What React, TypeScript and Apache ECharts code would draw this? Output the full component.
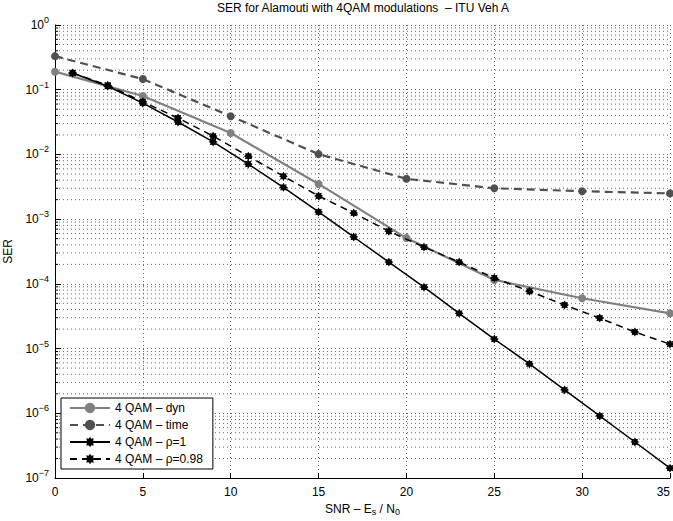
import React, { useEffect, useRef } from 'react';
import * as echarts from 'echarts';

const titleText = 'SER for Alamouti with 4QAM modulations  \u2013 ITU Veh A';
const legendNames = ['4 QAM \u2013 dyn', '4 QAM \u2013 time', '4 QAM \u2013 \u03c1=1', '4 QAM \u2013 \u03c1=0.98'];

const xCoarse = [0, 5, 10, 15, 20, 25, 30, 35];
const serDyn = [0.19, 0.08, 0.0214, 0.0035, 5.1e-4, 1.15e-4, 6.0e-5, 3.5e-5];
const serTime = [0.33, 0.146, 0.039, 0.0101, 0.0042, 0.003, 0.0027, 0.0025];

const xFine = [1, 3, 5, 7, 9, 11, 13, 15, 17, 19, 21, 23, 25, 27, 29, 31, 33, 35];
const serRho1 = [0.181, 0.113, 0.062, 0.0317, 0.0156, 0.0071, 0.0031, 0.00129, 5.3e-4, 2.17e-4, 8.9e-5, 3.5e-5, 1.4e-5, 5.8e-6, 2.3e-6, 9.1e-7, 3.6e-7, 1.42e-7];
const serRho098 = [0.181, 0.117, 0.065, 0.0365, 0.0192, 0.0094, 0.0046, 0.00228, 0.00124, 6.5e-4, 3.7e-4, 2.17e-4, 1.23e-4, 7.7e-5, 4.7e-5, 2.96e-5, 1.8e-5, 1.17e-5];

const minorMantissas = [2, 3, 4, 5, 6, 7, 8, 9];
const decades = [-7, -6, -5, -4, -3, -2, -1];
const minorValues: number[] = [];
decades.forEach((e) => minorMantissas.forEach((m) => minorValues.push(m * Math.pow(10, e))));

const FONT = 'Liberation Sans, Arial, Helvetica, sans-serif';

function starPath(): string {
  const pts: string[] = [];
  for (let i = 0; i < 16; i++) {
    const a = (i * Math.PI) / 8 - Math.PI / 2;
    const r = i % 2 === 0 ? 10 : 6.5;
    pts.push(`${(10 + r * Math.cos(a)).toFixed(2)} ${(10 + r * Math.sin(a)).toFixed(2)}`);
  }
  return 'path://M' + pts.join(' L') + ' Z';
}
const STAR = starPath();

function pair(xs: number[], ys: number[]) {
  return xs.map((x, i) => [x, ys[i]]);
}

export default function App() {
  const ref = useRef<HTMLDivElement>(null);
  useEffect(() => {
    document.body.style.margin = '0';
    const chart = echarts.init(ref.current!, null, { renderer: 'svg' });
    const gridLine = { show: true, lineStyle: { color: '#666', width: 1, type: [1, 3] as any } };
    chart.setOption({
      animation: false,
      backgroundColor: '#fff',
      textStyle: { fontFamily: FONT },
      graphic: [
        {
          type: 'text',
          x: 363,
          y: 2,
          style: { text: titleText, textAlign: 'center', font: `12px ${FONT}`, fill: '#000' },
        },
      ],
      grid: { left: 55, right: 3, top: 25, bottom: 43, containLabel: false, outerBoundsMode: 'none' },
      legend: {
        data: legendNames,
        orient: 'vertical',
        left: 61,
        top: 398,
        padding: [4, 10, 4, 8],
        itemGap: 5,
        itemWidth: 40,
        itemHeight: 13,
        backgroundColor: '#fff',
        borderColor: '#000',
        borderWidth: 1,
        borderRadius: 0,
        textStyle: { fontFamily: FONT, fontSize: 12, color: '#000' },
      },
      xAxis: {
        type: 'value',
        min: 0,
        max: 35,
        interval: 5,
        name: 'SNR \u2013 E{sub|s} / N{sub|0}',
        nameLocation: 'middle',
        nameGap: 22,
        nameTextStyle: {
          fontFamily: FONT,
          fontSize: 12,
          color: '#000',
          rich: { sub: { fontSize: 9, padding: [7, 0, 0, 0], fontFamily: FONT, color: '#000' } },
        },
        axisLine: { onZero: false, lineStyle: { color: '#000', width: 1 } },
        axisTick: { inside: true, length: 5, lineStyle: { color: '#000' } },
        axisLabel: { color: '#000', fontSize: 12, fontFamily: FONT, margin: 8, alignMaxLabel: 'right' },
        splitLine: gridLine,
      },
      yAxis: {
        type: 'log',
        logBase: 10,
        min: 1e-7,
        max: 1,
        interval: 1,
        name: 'SER',
        nameLocation: 'middle',
        nameGap: 37,
        nameTextStyle: { fontFamily: FONT, fontSize: 12, color: '#000' },
        axisLine: { show: true, lineStyle: { color: '#000', width: 1 } },
        axisTick: { inside: true, length: 6, lineStyle: { color: '#000' } },
        axisLabel: {
          color: '#000',
          fontFamily: FONT,
          margin: 6,
          formatter: (v: number) => {
            const e = Math.round(Math.log10(v));
            const s = e < 0 ? '\u2212' + -e : String(e);
            return `{b|10}{s|${s}}`;
          },
          rich: {
            b: { fontSize: 12, fontFamily: FONT, color: '#000' },
            s: { fontSize: 9, fontFamily: FONT, color: '#000', padding: [0, 0, 10, 0] },
          },
        },
        splitLine: gridLine,
      },
      series: [
        {
          type: 'custom',
          name: 'minorgrid',
          silent: true,
          z: 1,
          data: minorValues.map((v) => [0, v]),
          renderItem: (params: any, api: any) => {
            const cs = params.coordSys;
            const y = api.coord([0, api.value(1)])[1];
            return {
              type: 'group',
              children: [
                {
                  type: 'line',
                  shape: { x1: cs.x, y1: y, x2: cs.x + cs.width, y2: y },
                  style: { stroke: '#666', lineWidth: 1, lineDash: [1, 3] },
                },
                {
                  type: 'line',
                  shape: { x1: cs.x, y1: y, x2: cs.x + 3, y2: y },
                  style: { stroke: '#000', lineWidth: 1 },
                },
              ],
            };
          },
        },
        {
          type: 'line',
          name: legendNames[0],
          z: 3,
          data: pair(xCoarse, serDyn),
          color: '#808080',
          lineStyle: { color: '#808080', width: 2.2, type: 'solid' },
          symbol: 'circle',
          symbolSize: 8,
          itemStyle: { color: '#808080' },
        },
        {
          type: 'line',
          name: legendNames[1],
          z: 3,
          data: pair(xCoarse, serTime),
          color: '#505050',
          lineStyle: { color: '#505050', width: 2.2, type: [8, 5] },
          symbol: 'circle',
          symbolSize: 8,
          itemStyle: { color: '#505050' },
        },
        {
          type: 'line',
          name: legendNames[2],
          z: 4,
          data: pair(xFine, serRho1),
          color: '#000',
          lineStyle: { color: '#000', width: 1.5, type: 'solid' },
          symbol: STAR,
          symbolSize: 9,
          itemStyle: { color: '#000' },
        },
        {
          type: 'line',
          name: legendNames[3],
          z: 4,
          data: pair(xFine, serRho098),
          color: '#000',
          lineStyle: { color: '#000', width: 1.5, type: [7, 5] },
          symbol: STAR,
          symbolSize: 9,
          itemStyle: { color: '#000' },
        },
      ],
    });
    return () => chart.dispose();
  }, []);
  return <div ref={ref} style={{ width: 673, height: 521 }} />;
}
